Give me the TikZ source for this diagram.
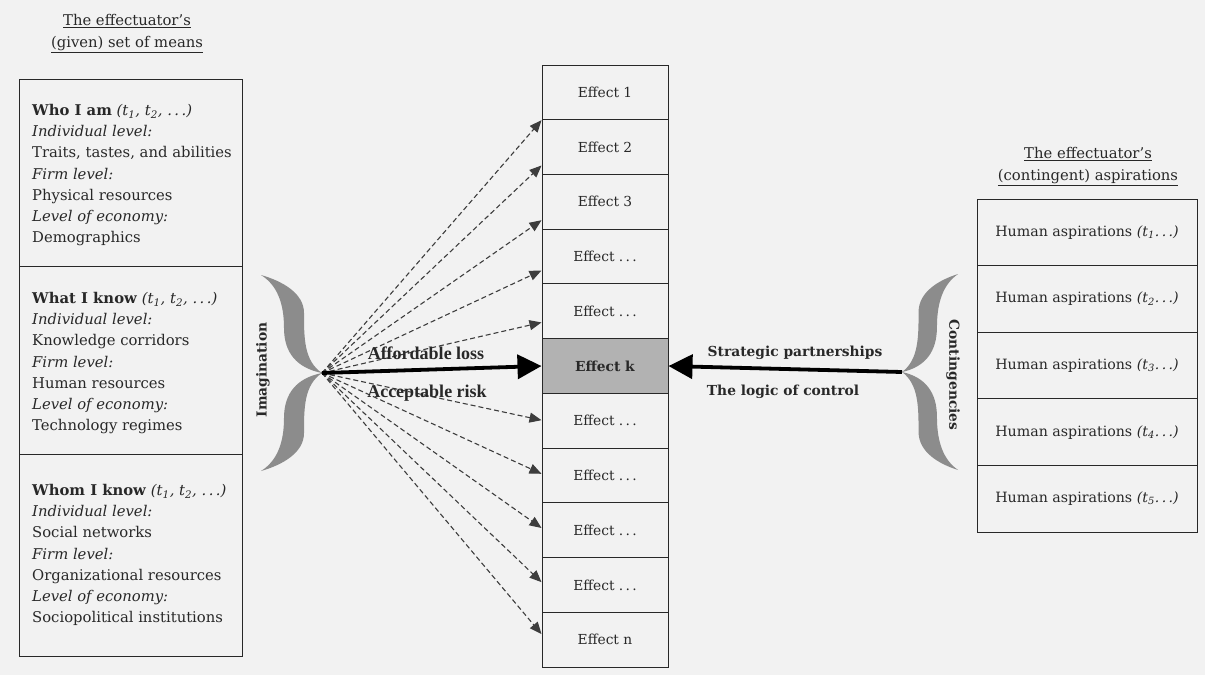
\documentclass[tikz,border=0pt]{standalone}
\usepackage{fontspec}
\setmainfont{DejaVu Serif}
\newfontfamily\labfont{Liberation Serif}
\usetikzlibrary{arrows.meta,calc}
\definecolor{bg}{RGB}{242,242,242}
\definecolor{ink}{RGB}{40,40,40}
\definecolor{bracegray}{RGB}{140,140,140}
\definecolor{kfill}{RGB}{178,178,178}
\newcommand{\tsub}[1]{\textsubscript{#1}}
\newcommand{\ddd}{.\,.\,.}
\begin{document}
\begin{tikzpicture}[x=1pt,y=-1pt,
  every node/.style={text=ink},
  cellbox/.style={draw=ink, line width=1pt, minimum width=126pt, minimum height=54.7pt, inner sep=0pt, font=\fontsize{13.8}{15}\selectfont},
  aspbox/.style={draw=ink, line width=1pt, minimum width=220pt, minimum height=66.6pt, inner sep=0pt, font=\fontsize{14.2}{16}\selectfont},
  secbox/.style={draw=ink, line width=1pt, minimum width=223pt, inner sep=0pt},
  sectext/.style={align=left, anchor=north west, inner sep=0pt, font=\fontsize{14.8}{21.2}\selectfont},
  titletext/.style={font=\fontsize{14.8}{22}\selectfont, align=center, inner sep=0pt},
  dasharrow/.style={draw=ink!90, line width=1.1pt, dash pattern=on 5pt off 3pt, -{Triangle[length=12pt,width=10pt]}},
  bigarrow/.style={draw=black, line width=3.8pt, -{Triangle[length=24pt,width=24pt]}},
  lab/.style={font=\labfont\bfseries\fontsize{18}{20}\selectfont, inner sep=0pt},
  sidelab/.style={font=\bfseries\fontsize{13.8}{16}\selectfont, inner sep=0pt},
  bracefill/.style={fill=bracegray, draw=none},
]
\useasboundingbox (0,0) rectangle (1205,675);
\fill[bg] (0,0) rectangle (1205,675);

% ---------- left titles ----------
\node[titletext] (lt) at (127,34) {\underline{The effectuator's}\\\underline{(given) set of means}};

% ---------- left box ----------
\node[secbox, minimum height=187pt] (s1) at (130.5,172.5) {};
\node[secbox, minimum height=188pt] (s2) at (130.5,360) {};
\node[secbox, minimum height=202pt] (s3) at (130.5,555) {};

\node[sectext] (s1t) at (32,104) {\textbf{Who I am} \textit{(t\tsub{1}, t\tsub{2}, \ddd)}\\
\textit{Individual level:}\\Traits, tastes, and abilities\\\textit{Firm level:}\\Physical resources\\
\textit{Level of economy:}\\Demographics};
\node[sectext] (s2t) at (32,292) {\textbf{What I know} \textit{(t\tsub{1}, t\tsub{2}, \ddd)}\\
\textit{Individual level:}\\Knowledge corridors\\\textit{Firm level:}\\Human resources\\
\textit{Level of economy:}\\Technology regimes};
\node[sectext] (s3t) at (32,484) {\textbf{Whom I know} \textit{(t\tsub{1}, t\tsub{2}, \ddd)}\\
\textit{Individual level:}\\Social networks\\\textit{Firm level:}\\Organizational resources\\
\textit{Level of economy:}\\Sociopolitical institutions};

% ---------- effects column ----------
\foreach \i/\t in {1/Effect 1,2/Effect 2,3/Effect 3,4/Effect \ddd,5/Effect \ddd,
                   7/Effect \ddd,8/Effect \ddd,9/Effect \ddd,10/Effect \ddd,11/Effect n}{
  \node[cellbox] (e\i) at (605,{65+(\i-0.5)*54.73}) {\t};
}
\node[cellbox, fill=kfill] (e6) at (605,{65+5.5*54.73}) {\textbf{Effect k}};

% ---------- right titles and box ----------
\node[titletext] (rt) at (1088,167) {\underline{The effectuator's}\\\underline{(contingent) aspirations}};
\foreach \i in {1,...,5}{
  \node[aspbox] (a\i) at (1087,{199+(\i-0.5)*66.6}) {Human aspirations \textit{(t\tsub{\i}\ddd)}};
}

% ---------- braces ----------
\coordinate (lo) at (322,373);
\coordinate (ro) at (902,372);
\foreach \s in {1,-1}{
  \fill[bracefill, shift={(lo)}, yscale=\s]
    (-61,-98) .. controls (-40,-92) and (-18,-80) .. (-18,-60)
    .. controls (-18,-35) and (-18,-12) .. (0,0)
    .. controls (-25,-5) and (-38,-20) .. (-38,-45)
    .. controls (-38,-70) and (-45,-88) .. (-61,-98) -- cycle;
  \fill[bracefill, shift={(ro)}, xscale=-0.92, yscale=\s]
    (-61,-98) .. controls (-40,-92) and (-18,-80) .. (-18,-60)
    .. controls (-18,-35) and (-18,-12) .. (0,0)
    .. controls (-25,-5) and (-38,-20) .. (-38,-45)
    .. controls (-38,-70) and (-45,-88) .. (-61,-98) -- cycle;
}
\node[sidelab, rotate=90] (imag) at (263,370) {Imagination};
\node[sidelab, rotate=-90] (cont) at (953,375) {Contingencies};

% ---------- dashed arrows ----------
\draw[dasharrow] (lo) -- (e1.south west);
\draw[dasharrow] (lo) -- ($(e2.north west)!0.83!(e2.south west)$);
\draw[dasharrow] (lo) -- ($(e3.north west)!0.83!(e3.south west)$);
\draw[dasharrow] (lo) -- ($(e4.north west)!0.75!(e4.south west)$);
\draw[dasharrow] (lo) -- ($(e5.north west)!0.70!(e5.south west)$);
\draw[dasharrow] (lo) -- ($(e7.north west)!0.49!(e7.south west)$);
\draw[dasharrow] (lo) -- ($(e8.north west)!0.47!(e8.south west)$);
\draw[dasharrow] (lo) -- ($(e9.north west)!0.46!(e9.south west)$);
\draw[dasharrow] (lo) -- ($(e10.north west)!0.45!(e10.south west)$);
\draw[dasharrow] (lo) -- ($(e11.north west)!0.40!(e11.south west)$);

% ---------- solid arrows ----------
\draw[bigarrow] (lo) -- (e6.west);
\draw[bigarrow] (ro) -- (e6.east);

\node[lab] (afl) at (426,353) {Affordable loss};
\node[lab] (acr) at (427,393) {Acceptable risk};
\node[sidelab] (sp) at (795,353) {Strategic partnerships};
\node[sidelab] (lc) at (783,392) {The logic of control};
\end{tikzpicture}
\end{document}
